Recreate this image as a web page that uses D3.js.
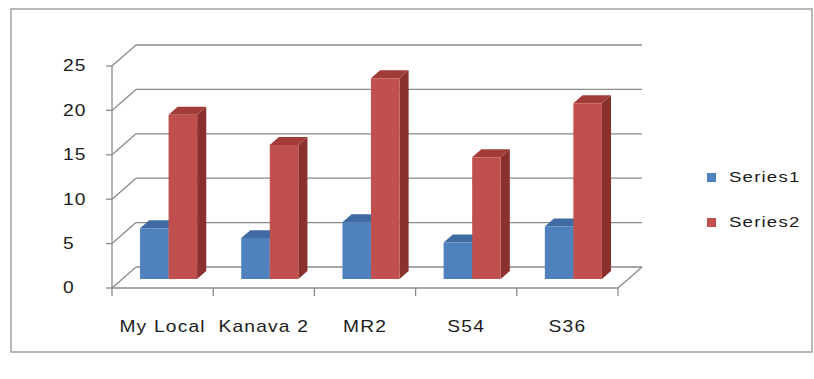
<!DOCTYPE html>
<html>
<head>
<meta charset="utf-8">
<script src="https://cdn.jsdelivr.net/npm/d3@7/dist/d3.min.js"></script>
<style>
  html, body { margin: 0; padding: 0; background: #ffffff; }
  svg { display: block; }
  text { font-family: "Liberation Sans", Arial, sans-serif; fill: #1c1c1c; }
</style>
</head>
<body>
<svg id="chart" width="814" height="379"></svg>
<script>
// Chart data
const categories = ["My Local", "Kanava 2", "MR2", "S54", "S36"];
const seriesNames = ["Series1", "Series2"];
const series1 = [5.7, 4.6, 6.4, 4.1, 5.9];
const series2 = [18.5, 15.1, 22.6, 13.7, 19.8];
const yTicks = [0, 5, 10, 15, 20, 25];

const seriesValues = [series1, series2];
const palette = [
  { front: "#4f81bd", top: "#3f6aa3", side: "#2f5787" },
  { front: "#c0504d", top: "#a13c39", side: "#8a312f" }
];

const svg = d3.select("#chart");

// Outer chart frame
svg.append("rect")
  .attr("x", 11).attr("y", 9).attr("width", 801).attr("height", 343)
  .attr("fill", "#ffffff").attr("stroke", "#a0a0a0").attr("stroke-width", 1.5);

// Scales for the front plane of the 3-D box
const x = d3.scaleBand().domain(categories).range([112, 618]).padding(0);
const y = d3.scaleLinear().domain([0, 25]).range([288, 66]);
const bw = x.bandwidth();
const inner = d3.scaleBand().domain(seriesNames)
  .range([0.175 * bw, 0.175 * bw + 2 * 0.282 * bw]).padding(0);

// Oblique depth of the plot box
const DX = 24, DY = -21;
const proj = (px, v, f) => [px + f * DX, y(v) + f * DY];

const gridColor = "#8a8a8a";
const grid = svg.append("g").attr("stroke", gridColor).attr("stroke-width", 1.3).attr("fill", "none");
const x0 = x.range()[0], x1 = x.range()[1];

// Back wall gridlines and left wall diagonals
yTicks.forEach(v => {
  const a = proj(x0, v, 1), b = proj(x1, v, 1);
  grid.append("line").attr("x1", a[0]).attr("y1", a[1]).attr("x2", b[0]).attr("y2", b[1]);
  const c = proj(x0, v, 0);
  grid.append("line").attr("x1", c[0]).attr("y1", c[1]).attr("x2", a[0]).attr("y2", a[1]);
});

// Floor front and right edges
{
  const fl = proj(x0, 0, 0), fr = proj(x1, 0, 0), br = proj(x1, 0, 1);
  grid.append("line").attr("x1", fl[0]).attr("y1", fl[1]).attr("x2", fr[0]).attr("y2", fr[1]);
  grid.append("line").attr("x1", fr[0]).attr("y1", fr[1]).attr("x2", br[0]).attr("y2", br[1]);
}

// Vertical value axis with tick marks
{
  const top = proj(x0, 25, 0), bot = proj(x0, 0, 0);
  grid.append("line").attr("x1", top[0]).attr("y1", top[1]).attr("x2", bot[0]).attr("y2", bot[1]);
  yTicks.forEach(v => {
    grid.append("line").attr("x1", x0 - 6).attr("y1", y(v)).attr("x2", x0).attr("y2", y(v));
  });
}

// Category tick marks between groups
const catEdges = categories.map(c => x(c)).concat([x1]);
catEdges.forEach(px => {
  grid.append("line").attr("x1", px).attr("y1", y(0)).attr("x2", px).attr("y2", y(0) + 8);
});

// Text is widened and letter-spaced to the chart's label proportions
const SX = 1.2;
function label(parent, tx, ty, str, anchor, size) {
  parent.append("g").attr("transform", `translate(${tx},${ty}) scale(${SX},1)`)
    .append("text")
    .attr("text-anchor", anchor)
    .attr("dominant-baseline", "central")
    .attr("font-size", size)
    .attr("letter-spacing", "1px")
    .text(str);
}

// Value axis labels
yTicks.forEach(v => label(svg, 63, y(v), String(v), "start", 16));

// Category labels
categories.forEach(c => label(svg, x(c) + bw / 2, 327, c, "middle", 16));

// 3-D columns
const F0 = 0.43, F1 = 0.81;
const bars = svg.append("g");
categories.forEach((c, ci) => {
  seriesNames.forEach((s, si) => {
    const v = seriesValues[si][ci];
    const l = x(c) + inner(s), r = l + inner.bandwidth();
    const col = palette[si];
    const p = (px, val, f) => proj(px, val, f).join(",");
    // right side face
    bars.append("polygon")
      .attr("points", [p(r, v, F0), p(r, v, F1), p(r, 0, F1), p(r, 0, F0)].join(" "))
      .attr("fill", col.side);
    // top face
    bars.append("polygon")
      .attr("points", [p(l, v, F0), p(r, v, F0), p(r, v, F1), p(l, v, F1)].join(" "))
      .attr("fill", col.top);
    // front face
    bars.append("polygon")
      .attr("points", [p(l, v, F0), p(r, v, F0), p(r, 0, F0), p(l, 0, F0)].join(" "))
      .attr("fill", col.front);
  });
});

// Legend
const legend = svg.append("g");
seriesNames.forEach((s, i) => {
  const cy = 177.5 + i * 45;
  legend.append("rect").attr("x", 707).attr("y", cy - 4.5).attr("width", 9).attr("height", 9)
    .attr("fill", palette[i].front);
  label(legend, 729, cy, s, "start", 15.5);
});
</script>
</body>
</html>
